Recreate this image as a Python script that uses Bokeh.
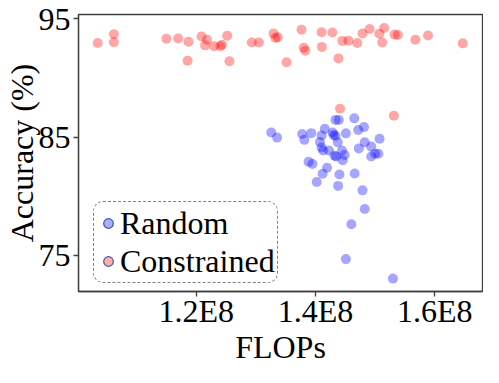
from bokeh.plotting import figure
from bokeh.models import Range1d, FixedTicker, Legend, LegendItem
from bokeh.embed import file_html
from bokeh.resources import INLINE

# FLOPs in units of 1E8, accuracy in %
constrained_flops = [1.0346, 1.0617, 1.0617, 1.1499, 1.1695, 1.1869, 1.1853, 1.2087, 1.2180, 1.2147,
                     1.2299, 1.2403, 1.2429, 1.2518, 1.2555, 1.2931, 1.3050, 1.3295, 1.3327, 1.3367,
                     1.3514, 1.3763, 1.3801, 1.3829, 1.4101, 1.4106, 1.4281, 1.4384, 1.4449, 1.4552,
                     1.4699, 1.4787, 1.4906, 1.5069, 1.5118, 1.5151, 1.5326, 1.5380, 1.5673, 1.5886,
                     1.6469, 1.4411, 1.5314]
constrained_acc = [92.97, 93.71, 93.04, 93.33, 93.35, 93.07, 91.48, 93.53, 93.25, 92.77,
                   92.69, 92.69, 92.82, 93.58, 91.42, 93.02, 93.02, 93.78, 93.40, 93.45,
                   91.35, 94.09, 92.56, 92.31, 93.88, 92.64, 93.86, 91.67, 93.15, 93.17,
                   92.97, 93.78, 94.16, 93.76, 93.02, 94.24, 93.68, 93.65, 93.25, 93.61,
                   92.94, 87.41, 86.83]

random_flops = [1.3257, 1.3355, 1.3775, 1.3812, 1.3927, 1.4155, 1.4101, 1.4074, 1.4101, 1.4127,
                1.4225, 1.4302, 1.4372, 1.4335, 1.4389, 1.4509, 1.4650, 1.4715, 1.4813, 1.4824,
                1.4726, 1.4934, 1.5074, 1.4934, 1.4999, 1.5053, 1.4346, 1.4444, 1.4487, 1.4454,
                1.3883, 1.3948, 1.4193, 1.4118, 1.4020, 1.4400, 1.4656, 1.4379, 1.4787, 1.4825,
                1.4601, 1.4509, 1.5298, 1.4286, 1.4335, 1.4319]
random_acc = [85.41, 84.97, 85.28, 84.78, 85.35, 85.71, 85.16, 84.59, 84.14, 83.88,
              83.88, 85.20, 84.57, 86.47, 86.47, 85.33, 86.60, 85.61, 85.86, 84.57,
              84.06, 84.21, 84.87, 83.37, 83.60, 83.60, 83.37, 83.88, 83.50, 83.05,
              82.92, 82.74, 82.42, 81.91, 81.22, 81.85, 81.93, 80.89, 80.51, 78.94,
              77.64, 74.70, 73.05, 85.41, 85.10, 83.43]

x_ticks = [1.2e8, 1.4e8, 1.6e8]
x_tick_labels = ["1.2E8", "1.4E8", "1.6E8"]
y_ticks = [75, 85, 95]

FONT = "Liberation Serif"
NAN = float("nan")

p = figure(width=483, height=367, output_backend="svg", toolbar_location=None,
           x_range=Range1d(1.0024e8, 1.68e8), y_range=Range1d(71.96, 95.38),
           min_border_left=72, min_border_right=1, min_border_top=14, min_border_bottom=0)
p.grid.visible = False
p.background_fill_color = "white"
p.border_fill_color = "white"
p.outline_line_color = "#404040"
p.outline_line_width = 1.3

p.scatter([v * 1e8 for v in constrained_flops], constrained_acc, size=10,
          fill_color="red", fill_alpha=0.35, line_color=None)
p.scatter([v * 1e8 for v in random_flops], random_acc, size=10,
          fill_color="blue", fill_alpha=0.35, line_color=None)

# legend-only handles (not drawn in the plot area)
leg_r = p.scatter(x=[NAN], y=[NAN], size=12, fill_color="#aab0f8", line_color="#3858b0", line_width=1.2)
leg_c = p.scatter(x=[NAN], y=[NAN], size=12, fill_color="#f8b0b0", line_color="#4a5a9a", line_width=1.2)

for ax in (p.xaxis[0], p.yaxis[0]):
    ax.axis_line_color = "#404040"
    ax.axis_line_width = 1.3
    ax.major_tick_line_color = "#404040"
    ax.major_tick_line_width = 1.3
    ax.major_tick_in = 0
    ax.major_tick_out = 5
    ax.minor_tick_line_color = None
    ax.major_label_text_font = FONT
    ax.major_label_text_font_size = "32px"
    ax.major_label_text_color = "black"
    ax.axis_label_text_font = FONT
    ax.axis_label_text_font_size = "32px"
    ax.axis_label_text_font_style = "normal"
    ax.axis_label_text_color = "black"

p.xaxis.ticker = FixedTicker(ticks=x_ticks)
p.xaxis.major_label_overrides = {t: l for t, l in zip(x_ticks, x_tick_labels)}
p.xaxis.axis_label = "FLOPs"
p.xaxis.major_label_standoff = -4
p.xaxis.axis_label_standoff = -3

p.yaxis.ticker = FixedTicker(ticks=y_ticks)
p.yaxis.axis_label = "Accuracy (%)"
p.yaxis.major_label_standoff = 3
p.yaxis.axis_label_standoff = -4

legend = Legend(items=[LegendItem(label="Random", renderers=[leg_r]),
                       LegendItem(label="Constrained", renderers=[leg_c])],
                location=(15, 8), label_text_font=FONT, label_text_font_size="32px",
                label_text_color="black",
                glyph_width=24, glyph_height=30, label_height=38, label_standoff=0,
                padding=2, spacing=0, margin=0,
                border_line_color="black", border_line_dash="4 3", border_line_width=1.2,
                background_fill_alpha=0.9)
try:
    legend.border_radius = 10
except Exception:
    pass
p.add_layout(legend)

open("out.html", "w").write(file_html(p, INLINE))
